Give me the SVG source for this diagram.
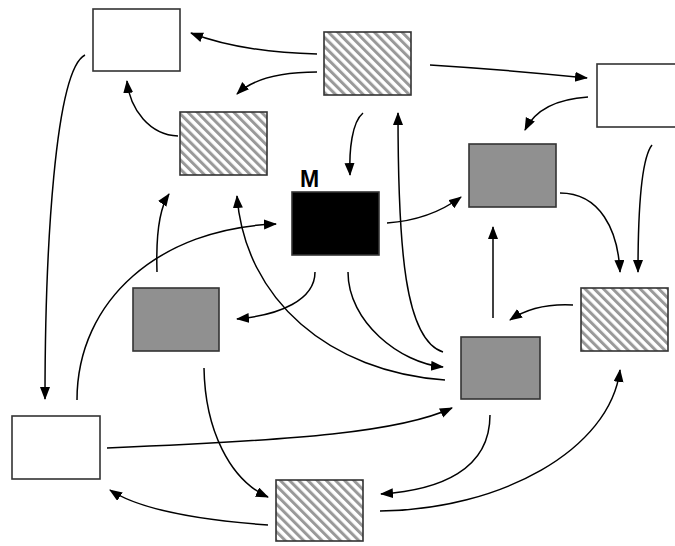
<svg xmlns="http://www.w3.org/2000/svg" width="675" height="546" viewBox="0 0 675 546">
<defs>
<pattern id="hatch" patternUnits="userSpaceOnUse" width="6.5" height="10" patternTransform="rotate(-45)">
<rect x="0" y="0" width="6.5" height="10" fill="#fff"/>
<rect x="0" y="0" width="3" height="10" fill="#999"/>
</pattern>
<marker id="arr" markerUnits="userSpaceOnUse" markerWidth="14" markerHeight="12" refX="12" refY="5" orient="auto">
<path d="M0,0 L13,5 L0,10 z" fill="#000"/>
</marker>
<style>
.box{stroke:#333;stroke-width:1.6}
.white{fill:#fff}
.hatch{fill:url(#hatch)}
.gray{fill:#909090}
.black{fill:#000}
.c{fill:none;stroke:#000;stroke-width:1.5;marker-end:url(#arr)}
.lbl{font-family:"Liberation Sans",Arial,sans-serif;font-weight:bold;font-size:23px;fill:#000}
</style>
</defs>
<rect width="675" height="546" fill="#fff"/>
<g id="connectors">
<path class="c" d="M317,54 Q240,52 191,33"/>
<path class="c" d="M317,72 Q260,72 237,94"/>
<path class="c" d="M363,113 C352,122 349,150 350,175"/>
<path class="c" d="M443,352 C405,340 398,250 398,113"/>
<path class="c" d="M387,223 Q430,220 461,197"/>
<path class="c" d="M493,318 L493,227"/>
<path class="c" d="M348,272 C348,322 400,363 443,367"/>
<path class="c" d="M445,380 C330,372 245,300 237,196"/>
<path class="c" d="M315,272 C315,300 280,315 237,319"/>
<path class="c" d="M157,272 C156,240 158,210 169,194"/>
<path class="c" d="M77,400 C77,300 160,228 276,224"/>
<path class="c" d="M85,55 C55,70 45,250 45,399"/>
<path class="c" d="M178,136 C150,135 130,110 127,81"/>
<path class="c" d="M430,65 Q510,70 587,78"/>
<path class="c" d="M588,97 Q540,100 525,130"/>
<path class="c" d="M652,145 C640,160 638,220 638,272"/>
<path class="c" d="M560,193 C600,193 618,230 620,272"/>
<path class="c" d="M573,305 Q535,303 510,320"/>
<path class="c" d="M107,448 C300,440 400,432 452,408"/>
<path class="c" d="M204,368 C205,430 230,480 268,497"/>
<path class="c" d="M268,525 C200,520 140,510 110,490"/>
<path class="c" d="M490,415 C490,470 440,490 381,494"/>
<path class="c" d="M380,511 C500,510 610,450 620,370"/>
</g>
<g id="n-white-tl"><rect class="box white" x="93" y="9" width="87" height="62"/></g>
<g id="n-hatch-top"><rect class="box hatch" x="324" y="32" width="87" height="63"/></g>
<g id="n-white-r"><rect class="box white" x="597" y="64" width="90" height="63"/></g>
<g id="n-hatch-l"><rect class="box hatch" x="180" y="112" width="87" height="63"/></g>
<g id="n-gray-tr"><rect class="box gray" x="469" y="144" width="87" height="63"/></g>
<g id="n-M"><rect class="box black" x="292" y="192" width="87" height="63"/><text class="lbl" x="300" y="187">M</text></g>
<g id="n-gray-l"><rect class="box gray" x="133" y="288" width="86" height="63"/></g>
<g id="n-hatch-r"><rect class="box hatch" x="581" y="288" width="87" height="63"/></g>
<g id="n-gray-c"><rect class="box gray" x="461" y="337" width="79" height="62"/></g>
<g id="n-white-bl"><rect class="box white" x="12" y="416" width="88" height="63"/></g>
<g id="n-hatch-b"><rect class="box hatch" x="276" y="480" width="87" height="61"/></g>
</svg>
